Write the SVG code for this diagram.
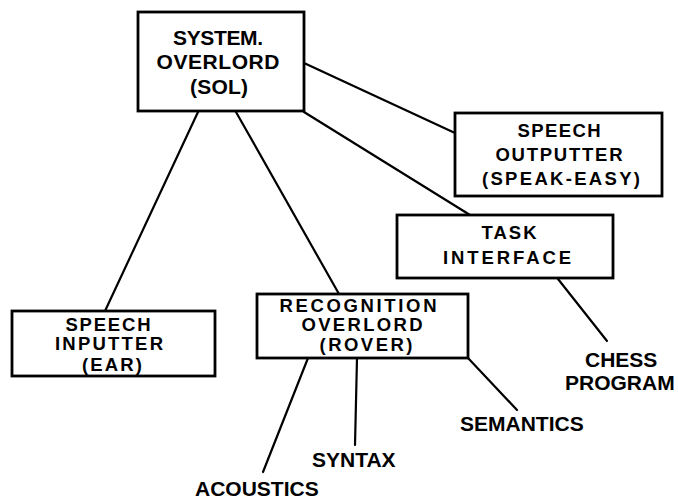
<svg xmlns="http://www.w3.org/2000/svg" width="678" height="499" viewBox="0 0 678 499">
  <style>
    .box { fill: #fff; stroke: #000; stroke-width: 2.8; }
    .link { stroke: #000; stroke-width: 2.2; fill: none; stroke-linecap: round; }
    .bt { font-family: "Liberation Sans", Arial, sans-serif; font-weight: bold; font-size: 18.5px; fill: #000; text-anchor: middle; }
    .big { font-size: 21px; }
    .lbl { font-family: "Liberation Sans", Arial, sans-serif; font-weight: bold; font-size: 21px; fill: #000; }
  </style>

  <!-- connectors -->
  <g id="connectors">
    <line class="link" x1="304" y1="63" x2="455" y2="133"/>
    <line class="link" x1="304" y1="112" x2="470" y2="215"/>
    <line class="link" x1="198" y1="112" x2="105" y2="311"/>
    <line class="link" x1="236" y1="112" x2="339" y2="294"/>
    <line class="link" x1="558" y1="279" x2="607" y2="341"/>
    <line class="link" x1="308" y1="358" x2="263" y2="472"/>
    <line class="link" x1="357" y1="358" x2="355" y2="445"/>
    <line class="link" x1="468" y1="358" x2="517" y2="410"/>
  </g>

  <!-- system overlord -->
  <g id="sol">
    <rect class="box" x="138" y="12" width="166" height="99"/>
    <text class="bt big" x="218" y="45" textLength="90" lengthAdjust="spacing">SYSTEM.</text>
    <text class="bt big" x="218" y="69" textLength="123" lengthAdjust="spacing">OVERLORD</text>
    <text class="bt big" x="219" y="94" textLength="58" lengthAdjust="spacing">(SOL)</text>
  </g>

  <!-- speech outputter -->
  <g id="speak-easy">
    <rect class="box" x="455" y="113" width="207" height="83"/>
    <text class="bt" x="559" y="137" textLength="83" lengthAdjust="spacing">SPEECH</text>
    <text class="bt" x="559" y="161" textLength="127" lengthAdjust="spacing">OUTPUTTER</text>
    <text class="bt" x="561" y="185" textLength="158" lengthAdjust="spacing">(SPEAK-EASY)</text>
  </g>

  <!-- task interface -->
  <g id="task">
    <rect class="box" x="397" y="215" width="216" height="63"/>
    <text class="bt" x="509" y="239" textLength="55" lengthAdjust="spacing">TASK</text>
    <text class="bt" x="507" y="264" textLength="128" lengthAdjust="spacing">INTERFACE</text>
  </g>

  <!-- speech inputter -->
  <g id="ear">
    <rect class="box" x="12" y="311" width="203" height="65"/>
    <text class="bt" x="108" y="331" textLength="85" lengthAdjust="spacing">SPEECH</text>
    <text class="bt" x="109" y="350" textLength="108" lengthAdjust="spacing">INPUTTER</text>
    <text class="bt" x="112" y="371" textLength="60" lengthAdjust="spacing">(EAR)</text>
  </g>

  <!-- recognition overlord -->
  <g id="rover">
    <rect class="box" x="257" y="294" width="211" height="64"/>
    <text class="bt" x="358" y="312" textLength="157" lengthAdjust="spacing">RECOGNITION</text>
    <text class="bt" x="362" y="331" textLength="121" lengthAdjust="spacing">OVERLORD</text>
    <text class="bt" x="366" y="351" textLength="93" lengthAdjust="spacing">(ROVER)</text>
  </g>

  <!-- leaf labels -->
  <g id="chess">
    <text class="lbl" x="585" y="367">CHESS</text>
    <text class="lbl" x="565" y="390">PROGRAM</text>
  </g>
  <g id="semantics">
    <text class="lbl" x="460" y="431">SEMANTICS</text>
  </g>
  <g id="syntax">
    <text class="lbl" x="312" y="467">SYNTAX</text>
  </g>
  <g id="acoustics">
    <text class="lbl" x="195" y="496">ACOUSTICS</text>
  </g>
</svg>
